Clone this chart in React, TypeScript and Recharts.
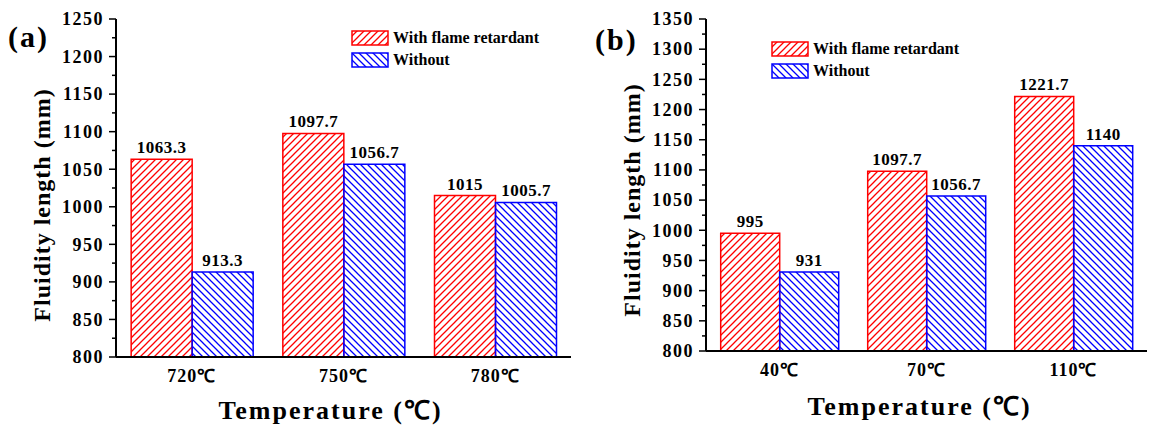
import React from 'react';
import { BarChart, Bar, XAxis, YAxis, Legend, LabelList } from 'recharts';

const FONT = "'Liberation Serif', 'Times New Roman', serif";

// panel (a): pouring temperature
const tempsA = ['720℃', '750℃', '780℃'];
const retardantA = [1063.3, 1097.7, 1015];
const withoutA = [913.3, 1056.7, 1005.7];
const ticksA = [800, 825, 850, 875, 900, 925, 950, 975, 1000, 1025, 1050, 1075, 1100, 1125, 1150, 1175, 1200, 1225, 1250];

// panel (b): mould temperature
const tempsB = ['40℃', '70℃', '110℃'];
const retardantB = [995, 1097.7, 1221.7];
const withoutB = [931, 1056.7, 1140];
const ticksB = [800, 825, 850, 875, 900, 925, 950, 975, 1000, 1025, 1050, 1075, 1100, 1125, 1150, 1175, 1200, 1225, 1250, 1275, 1300, 1325, 1350];

const seriesNames = ['With flame retardant', 'Without'];

const RED = '#ff0000';
const BLUE = '#0000ff';
const Y_TICK_SIZE = 7;
const Y_TICK_MARGIN = 5;

const boldText = { fontFamily: FONT, fontWeight: 'bold' as const, fill: '#000' };

const YTick = ({ x, y, payload }: any) => {
  const v = payload.value;
  const major = v % 50 === 0;
  const axisX = x + Y_TICK_SIZE + Y_TICK_MARGIN;
  return (
    <g>
      <line x1={axisX - (major ? Y_TICK_SIZE : 4)} x2={axisX} y1={y} y2={y} stroke="#000" strokeWidth={1.5} />
      {major && (
        <text x={x} y={y} dy="0.35em" textAnchor="end" fontSize={18} letterSpacing={1.5} style={boldText}>
          {v}
        </text>
      )}
    </g>
  );
};

const Swatch = ({ color, pattern }: { color: string; pattern: string }) => (
  <svg width={38} height={16} style={{ display: 'block' }}>
    <rect x={1} y={1} width={36} height={14} fill={`url(#${pattern})`} stroke={color} strokeWidth={1.5} />
  </svg>
);

const renderLegend = () => (
  <div style={{ fontFamily: FONT, fontWeight: 'bold', fontSize: 16, color: '#000' }}>
    <div style={{ display: 'flex', alignItems: 'center', height: 22 }}>
      <Swatch color={RED} pattern="hatchRed" />
      <span style={{ marginLeft: 4 }}>{seriesNames[0]}</span>
    </div>
    <div style={{ display: 'flex', alignItems: 'center', height: 22 }}>
      <Swatch color={BLUE} pattern="hatchBlue" />
      <span style={{ marginLeft: 4 }}>{seriesNames[1]}</span>
    </div>
  </div>
);

interface PanelProps {
  tag: string;
  cats: string[];
  withR: number[];
  without: number[];
  ticks: number[];
  left: number;
  width: number;
  yAxisWidth: number;
  plotBottom: number;
  rightMargin: number;
  legendPos: { left: number; top: number };
  yTitle: { x: number; dy: number };
  xTitle: { dx: number; offset: number };
  tagPos: { x: number; y: number };
}

function Panel(p: PanelProps) {
  const height = 427;
  const data = p.cats.map((c, i) => ({ cat: c, withR: p.withR[i], without: p.without[i] }));
  const domain = [p.ticks[0], p.ticks[p.ticks.length - 1]];
  const axisLine = { stroke: '#000', strokeWidth: 2 };

  return (
    <div style={{ position: 'absolute', left: p.left, top: 0, width: p.width, height }}>
      <BarChart
        width={p.width}
        height={height}
        data={data}
        margin={{ top: 19, right: p.rightMargin, bottom: 0, left: 0 }}
        barCategoryGap="10%"
        barGap={0}
      >
        <XAxis
          dataKey="cat"
          height={height - p.plotBottom}
          axisLine={axisLine}
          tickLine={false}
          tickSize={0}
          tickMargin={12}
          tick={{ ...boldText, fontSize: 18, letterSpacing: 1 }}
          label={{
            content: ({ viewBox }: any) => (
              <text
                x={viewBox.x + viewBox.width / 2 + p.xTitle.dx}
                y={viewBox.y + viewBox.height - p.xTitle.offset}
                textAnchor="middle"
                fontSize={26}
                letterSpacing={2}
                style={boldText}
              >
                Temperature (℃)
              </text>
            ),
          }}
        />
        <XAxis xAxisId="top" orientation="top" dataKey="cat" height={0} tick={false} tickLine={false} axisLine={axisLine} />
        <YAxis
          width={p.yAxisWidth}
          domain={domain}
          ticks={p.ticks}
          interval={0}
          allowDataOverflow
          axisLine={axisLine}
          tickLine={false}
          tickSize={Y_TICK_SIZE}
          tickMargin={Y_TICK_MARGIN}
          tick={<YTick />}
          label={{
            content: ({ viewBox }: any) => {
              const cx = viewBox.x + p.yTitle.x;
              const cy = viewBox.y + viewBox.height / 2 + p.yTitle.dy;
              return (
                <text
                  x={cx}
                  y={cy}
                  dy="0.35em"
                  transform={`rotate(-90, ${cx}, ${cy})`}
                  textAnchor="middle"
                  fontSize={24}
                  letterSpacing={1}
                  style={boldText}
                >
                  Fluidity length (mm)
                </text>
              );
            },
          }}
        />
        <YAxis yAxisId="right" orientation="right" width={0} domain={domain} tick={false} tickLine={false} axisLine={axisLine} />
        <Legend
          layout="horizontal"
          verticalAlign="middle"
          align="center"
          content={renderLegend}
          wrapperStyle={{ left: p.legendPos.left, top: p.legendPos.top, width: 'auto' }}
        />
        <Bar dataKey="withR" name={seriesNames[0]} fill="url(#hatchRed)" stroke={RED} strokeWidth={1.5} isAnimationActive={false}>
          <LabelList dataKey="withR" position="top" offset={6} fontSize={17} letterSpacing={0.5} style={boldText} />
        </Bar>
        <Bar dataKey="without" name={seriesNames[1]} fill="url(#hatchBlue)" stroke={BLUE} strokeWidth={1.5} isAnimationActive={false}>
          <LabelList dataKey="without" position="top" offset={6} fontSize={17} letterSpacing={0.5} style={boldText} />
        </Bar>
      </BarChart>
      <div
        style={{
          position: 'absolute',
          left: p.tagPos.x,
          top: p.tagPos.y - 27,
          fontFamily: FONT,
          fontWeight: 'bold',
          fontSize: 30,
          letterSpacing: 2,
          lineHeight: '34px',
        }}
      >
        {p.tag}
      </div>
    </div>
  );
}

export default function App() {
  return (
    <div style={{ position: 'absolute', left: 0, top: 0, width: 1154, height: 427, background: '#fff', overflow: 'hidden' }}>
      <svg width={0} height={0} style={{ position: 'absolute' }}>
        <defs>
          <pattern id="hatchRed" patternUnits="userSpaceOnUse" width={7} height={7}>
            <path d="M0,7 L7,0 M-1,1 L1,-1 M6,8 L8,6" stroke={RED} strokeWidth={1.3} />
          </pattern>
          <pattern id="hatchBlue" patternUnits="userSpaceOnUse" width={7} height={7}>
            <path d="M0,0 L7,7 M-1,6 L1,8 M6,-1 L8,1" stroke={BLUE} strokeWidth={1.3} />
          </pattern>
        </defs>
      </svg>
      <Panel
        tag="(a)"
        cats={tempsA}
        withR={retardantA}
        without={withoutA}
        ticks={ticksA}
        left={0}
        width={580}
        yAxisWidth={116}
        plotBottom={357}
        rightMargin={9}
        legendPos={{ left: 351, top: 27 }}
        yTitle={{ x: 42, dy: 17 }}
        xTitle={{ dx: -13, offset: 8 }}
        tagPos={{ x: 8, y: 47 }}
      />
      <Panel
        tag="(b)"
        cats={tempsB}
        withR={retardantB}
        without={withoutB}
        ticks={ticksB}
        left={580}
        width={574}
        yAxisWidth={126}
        plotBottom={351}
        rightMargin={7}
        legendPos={{ left: 191, top: 38 }}
        yTitle={{ x: 52, dy: 15 }}
        xTitle={{ dx: -7, offset: 12 }}
        tagPos={{ x: 15, y: 50 }}
      />
    </div>
  );
}
